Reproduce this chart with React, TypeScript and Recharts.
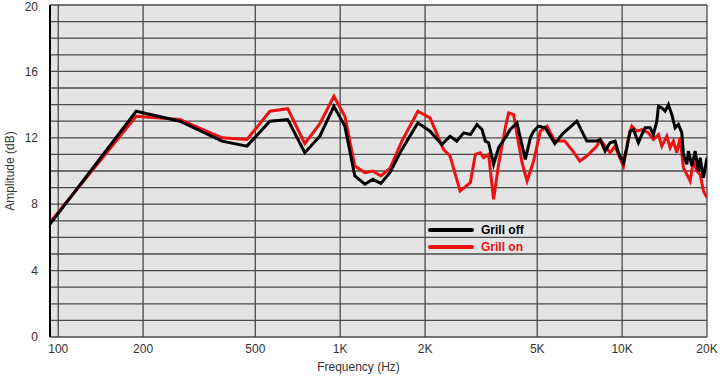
import React from 'react';
import { LineChart, Line, XAxis, YAxis, CartesianGrid } from 'recharts';

const offFreq = [93.5, 189, 270, 381, 467, 563, 652, 749, 847, 950, 1039, 1127, 1224, 1306, 1394, 1501, 1655, 1886, 2083, 2293, 2453, 2590, 2741, 2896, 3058, 3185, 3272, 3361, 3501, 3647, 3851, 4012, 4237, 4355, 4537, 4726, 4855, 5058, 5339, 5772, 6162, 6907, 7495, 8134, 8354, 8702, 9064, 9443, 9701, 10108, 10393, 10675, 10967, 11424, 11747, 12068, 12569, 12912, 13277, 13452, 13830, 14207, 14595, 15006, 15416, 15837, 16284, 16496, 16961, 17185, 17668, 18152, 18648, 18911, 19428, 20000];
const offDb = [6.8, 13.6, 13.0, 11.8, 11.5, 13.0, 13.1, 11.1, 12.1, 13.9, 12.7, 9.7, 9.2, 9.5, 9.25, 9.9, 11.3, 12.9, 12.4, 11.6, 12.1, 11.8, 12.3, 12.2, 12.8, 12.5, 11.8, 11.7, 10.4, 11.4, 12.0, 12.5, 12.9, 12.0, 10.7, 12.0, 12.4, 12.7, 12.6, 11.65, 12.25, 13.0, 11.8, 11.8, 11.9, 11.2, 11.7, 11.8, 11.1, 10.5, 11.4, 12.4, 12.5, 11.7, 12.2, 12.6, 12.6, 12.2, 13.0, 13.9, 13.8, 13.6, 14.0, 13.4, 12.6, 12.8, 12.3, 11.0, 10.4, 11.2, 10.3, 11.2, 10.0, 10.8, 9.6, 10.8];

const onFreq = [93.5, 189, 270, 381, 467, 563, 652, 749, 847, 950, 1039, 1127, 1224, 1306, 1394, 1501, 1655, 1886, 2083, 2325, 2453, 2663, 2896, 3016, 3141, 3227, 3361, 3501, 3647, 3851, 3957, 4122, 4237, 4416, 4600, 4855, 5128, 5414, 5772, 6263, 6687, 7080, 7495, 8134, 8354, 9064, 9443, 9701, 10108, 10530, 10824, 11275, 11747, 12397, 12912, 13452, 13830, 14405, 14799, 15204, 15630, 16058, 16496, 16961, 17425, 17902, 18408, 18911, 19428, 20000];
const onDb = [6.9, 13.3, 13.1, 12.0, 11.9, 13.6, 13.75, 11.65, 12.85, 14.5, 13.3, 10.3, 9.9, 10.0, 9.7, 10.15, 11.8, 13.6, 13.2, 11.3, 10.9, 8.8, 9.3, 11.0, 11.1, 10.8, 11.0, 8.3, 10.4, 12.6, 13.5, 13.4, 12.2, 10.5, 9.4, 10.6, 12.4, 12.7, 11.8, 11.8, 11.2, 10.6, 10.9, 11.5, 11.9, 11.1, 11.5, 11.0, 10.3, 12.0, 12.7, 12.4, 12.5, 12.3, 11.9, 12.2, 11.5, 12.1, 11.4, 11.8, 11.1, 12.0, 10.2, 9.8, 9.4, 10.6, 10.0, 9.8, 8.8, 8.4];

const xTicks = [100, 200, 500, 1000, 2000, 5000, 10000, 20000];
const xTickLabels = ['100', '200', '500', '1K', '2K', '5K', '10K', '20K'];
const yTicks = [0, 1, 2, 3, 4, 5, 6, 7, 8, 9, 10, 11, 12, 13, 14, 15, 16, 17, 18, 19, 20];
const yLabelled = [0, 4, 8, 12, 16, 20];

const offData = offFreq.map((f, i) => ({ f, v: offDb[i] }));
const onData = onFreq.map((f, i) => ({ f, v: onDb[i] }));

const font = '"Liberation Sans", Arial, sans-serif';

const YTick = (props: any) => {
  const { x, y, payload } = props;
  const v = payload.value as number;
  if (!yLabelled.includes(v)) return null;
  return (
    <text x={x} y={y + (v === 20 ? 2 : 0)} dy="0.355em" textAnchor="end" fill="#333" fontSize={12} fontFamily={font}>
      {String(v)}
    </text>
  );
};

const LegendBox = () => (
  <div style={{ position: 'absolute', left: 428, top: 221, fontFamily: font, fontWeight: 'bold', fontSize: 12 }}>
    <div style={{ display: 'flex', alignItems: 'center', height: 17 }}>
      <div style={{ width: 46, height: 4, background: '#000', borderRadius: 2, marginRight: 7 }} />
      <span style={{ color: '#000' }}>Grill off</span>
    </div>
    <div style={{ display: 'flex', alignItems: 'center', height: 17 }}>
      <div style={{ width: 46, height: 4, background: '#ee1111', borderRadius: 2, marginRight: 7 }} />
      <span style={{ color: '#ee1111' }}>Grill on</span>
    </div>
  </div>
);

export default function App() {
  return (
    <div style={{ position: 'absolute', left: 0, top: 0, width: 720, height: 376, background: '#fff' }}>
      <LineChart width={720} height={376} margin={{ top: 5, right: 13, bottom: 0, left: 0 }}>
        <CartesianGrid stroke="#4a4a4a" strokeWidth={1.3} fill="#e4e4e4" fillOpacity={1} />
        <XAxis
          dataKey="f"
          type="number"
          scale="log"
          domain={[93.5, 20000]}
          ticks={xTicks}
          allowDataOverflow
          tickFormatter={(v: number) => xTickLabels[xTicks.indexOf(v)] ?? ''}
          tickLine={false}
          axisLine={false}
          tickSize={0}
          tickMargin={7}
          height={39}
          tick={{ fill: '#333', fontSize: 12, fontFamily: font }}
          label={{ value: 'Frequency (Hz)', position: 'insideBottom', offset: 5, dx: -20, fill: '#333', fontSize: 12, fontFamily: font }}
        />
        <YAxis
          type="number"
          domain={[0, 20]}
          ticks={yTicks}
          interval={0}
          width={50}
          tick={<YTick />}
          tickLine={false}
          axisLine={{ stroke: '#000', strokeWidth: 2 }}
          tickSize={0}
          tickMargin={12}
          label={{ value: 'Amplitude (dB)', angle: -90, position: 'center', dx: -15, fill: '#333', fontSize: 12, fontFamily: font }}
        />
        <Line data={onData} dataKey="v" stroke="#ee1111" strokeWidth={3} dot={false} isAnimationActive={false} />
        <Line data={offData} dataKey="v" stroke="#000" strokeWidth={3} dot={false} isAnimationActive={false} />
      </LineChart>
      <LegendBox />
    </div>
  );
}
